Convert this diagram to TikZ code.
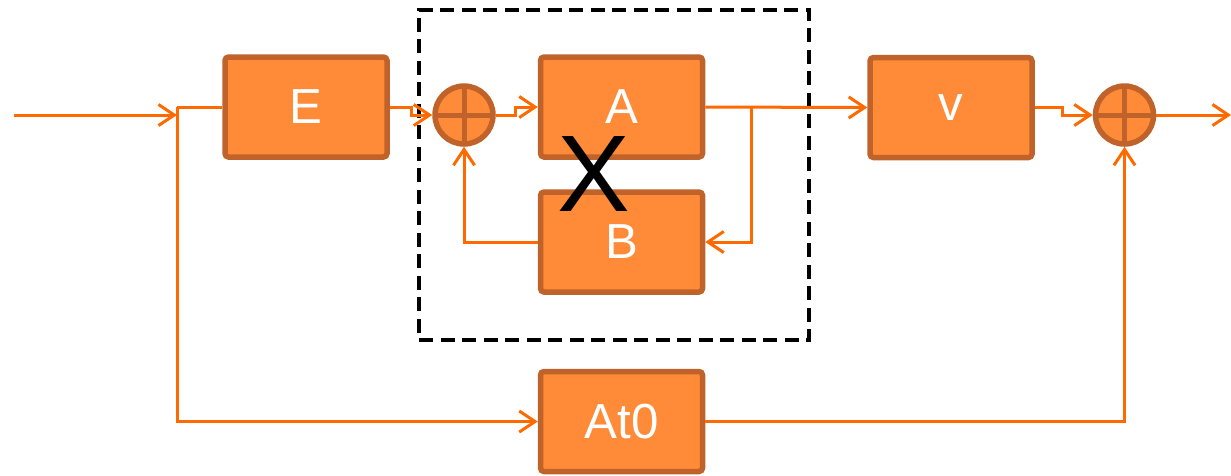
\documentclass[tikz,border=0pt]{standalone}
\usepackage{fontspec}
\setmainfont{Liberation Sans}
\usepackage{tikz}
\usetikzlibrary{arrows.meta,calc}
\definecolor{blk}{HTML}{FF8A38}
\definecolor{rim}{HTML}{C0632A}
\definecolor{sig}{HTML}{FF6A00}
\tikzset{
  block/.style={draw=rim,fill=blk,line width=0.055cm,rounded corners=1pt,minimum width=1.62cm,minimum height=1.0cm,inner sep=0pt,font=\fontsize{14}{16}\selectfont,text=white},
  sumj/.style={circle,draw=rim,fill=blk,line width=0.055cm,minimum size=0.58cm,inner sep=0pt,
    path picture={\draw[rim,line width=0.05cm] (path picture bounding box.west) -- (path picture bounding box.east)
      (path picture bounding box.north) -- (path picture bounding box.south);}},
  wire/.style={sig,line width=0.03cm},
  arr/.style={wire,-{Straight Barb[length=4.5pt,width=6pt]}},
  frame/.style={draw=black,line width=0.045cm,dash pattern=on 0.14cm off 0.075cm,minimum width=3.9cm,minimum height=3.3cm,inner sep=0pt},
}

\begin{document}
\begin{tikzpicture}[y=-1cm]
\useasboundingbox (0,0) rectangle (12.31,4.75);
% blocks
\node[frame] (grp) at (6.14,1.75) {};
\node[block] (E) at (3.06,1.07) {E};
\node[block] (A) at (6.215,1.07) {A};
\node[block] (B) at (6.215,2.42) {B};
\node[block] (v) at (9.51,1.075) {v};
\node[block] (At0) at (6.215,4.215) {At0};
\node[sumj] (s1) at (4.64,1.15) {};
\node[sumj] (s2) at (11.245,1.15) {};
\node[font=\fontsize{31}{31}\selectfont] (x) at (5.94,1.74) {X};
% helper points
\coordinate (in) at (0.14,1.15);
\coordinate (split) at (1.77,1.07);
\coordinate (br) at (7.51,1.07);
\coordinate (out) at (12.31,1.15);
% signals
\draw[arr] (in) -- (split |- in);
\draw[wire] (E.west) -- (split);
\draw[arr] (split) |- (At0.west);
\draw[arr] (E.east) -- ++(0.22,0) |- (s1.west);
\draw[arr] (s1.east) -- ++(0.2,0) |- (A.west);
\draw[arr] (A.east) -- (v.west);
\draw[arr] (br) |- (B.east);
\draw[arr] (B.west) -| (s1.south);
\draw[arr] (v.east) -- ++(0.28,0) |- (s2.west);
\draw[arr] (s2.east) -- (out);
\draw[arr] (At0.east) -| (s2.south);
\end{tikzpicture}
\end{document}
